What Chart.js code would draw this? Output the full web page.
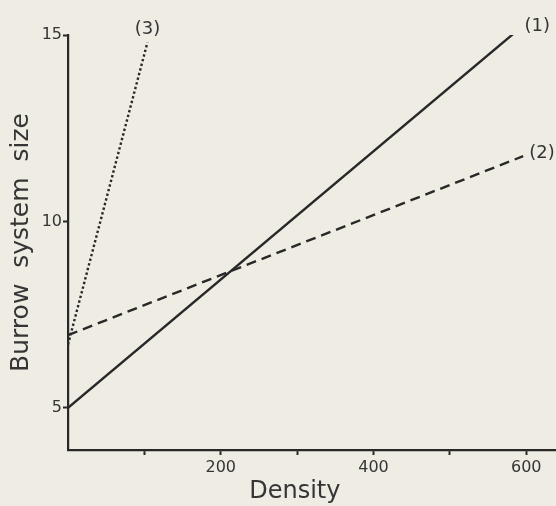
<!DOCTYPE html>
<html>
<head>
<meta charset="utf-8">
<script src="https://cdn.jsdelivr.net/npm/chart.js@4"></script>
<style>
html,body{margin:0;padding:0;background:#efece3;}
#c{display:block;}
</style>
</head>
<body>
<canvas id="c" width="556" height="506"></canvas>
<script>
// ---- data ----
const seriesNames = ['(1)', '(2)', '(3)'];
const line1 = [{x: 0, y: 5.0}, {x: 590, y: 15.15}];
const line2 = [{x: 0, y: 6.95}, {x: 596, y: 11.75}];
const line3 = [{x: 0, y: 6.7}, {x: 104, y: 14.8}];
const xTickValues = [100, 200, 300, 400, 500, 600];
const xTickLabels = {200: '200', 400: '400', 600: '600'};
const yTickValues = [5, 10, 15];
const xTitle = 'Density';
const yTitle = 'Burrow  system  size';

const ink = '#282828';
const textInk = '#353535';
const font = 'DejaVu Sans';

const bgPlugin = {
  id: 'bg',
  beforeDraw(chart) {
    const ctx = chart.ctx;
    ctx.save();
    ctx.fillStyle = '#efece3';
    ctx.fillRect(0, 0, chart.width, chart.height);
    ctx.restore();
  }
};

const labelPlugin = {
  id: 'lineLabels',
  afterDraw(chart) {
    const ctx = chart.ctx;
    const xs = chart.scales.x, ys = chart.scales.y;
    ctx.save();
    ctx.fillStyle = textInk;
    ctx.font = '18px "' + font + '"';
    chart.data.datasets.forEach((ds, i) => {
      const end = ds.data[ds.data.length - 1];
      const px = xs.getPixelForValue(end.x);
      const py = ys.getPixelForValue(end.y);
      if (i === 2) {
        ctx.textAlign = 'center';
        ctx.textBaseline = 'bottom';
        ctx.fillText(ds.label, px, py - 4);
      } else {
        ctx.textAlign = 'left';
        ctx.textBaseline = 'middle';
        ctx.fillText(ds.label, px + 6, py - 3);
      }
    });
    // x-axis title
    ctx.font = '24px "' + font + '"';
    ctx.textAlign = 'center';
    ctx.textBaseline = 'middle';
    ctx.fillText(xTitle, xs.getPixelForValue(297), 492);
    ctx.restore();
  }
};

new Chart(document.getElementById('c'), {
  type: 'scatter',
  data: {
    datasets: [
      {label: seriesNames[0], data: line1, showLine: true, borderColor: ink, borderWidth: 2.4, pointRadius: 0, fill: false},
      {label: seriesNames[1], data: line2, showLine: true, borderColor: ink, borderWidth: 2.4, borderDash: [10, 6], pointRadius: 0, fill: false},
      {label: seriesNames[2], data: line3, showLine: true, borderColor: ink, borderWidth: 2.4, borderDash: [2.4, 2.4], pointRadius: 0, fill: false}
    ]
  },
  options: {
    responsive: false,
    animation: false,
    layout: {padding: {top: 35, right: 0, bottom: 0, left: 0}},
    plugins: {legend: {display: false}, tooltip: {enabled: false}},
    scales: {
      x: {
        type: 'linear',
        min: 0,
        max: 639,
        afterBuildTicks(s) { s.ticks = xTickValues.map(v => ({value: v})); },
        afterFit(s) { s.height = 56; },
        ticks: {
          color: textInk,
          font: {family: font, size: 16},
          padding: 3,
          maxRotation: 0,
          autoSkip: false,
          callback: v => xTickLabels[v] || ''
        },
        grid: {drawOnChartArea: false, drawTicks: true, tickLength: 5, tickColor: ink, tickWidth: 2},
        border: {display: true, color: ink, width: 2.2},
        title: {display: false}
      },
      y: {
        type: 'linear',
        min: 3.87,
        max: 15,
        afterBuildTicks(s) { s.ticks = yTickValues.map(v => ({value: v})); },
        afterFit(s) { s.width = 68; },
        ticks: {
          color: textInk,
          font: {family: font, size: 16},
          padding: 1,
          autoSkip: false
        },
        grid: {drawOnChartArea: false, drawTicks: true, tickLength: 5, tickColor: ink, tickWidth: 2},
        border: {display: true, color: ink, width: 2.2},
        title: {
          display: true,
          text: yTitle,
          color: textInk,
          font: {family: font, size: 25},
          padding: {top: 6, bottom: 0}
        }
      }
    }
  },
  plugins: [bgPlugin, labelPlugin]
});
</script>
</body>
</html>
